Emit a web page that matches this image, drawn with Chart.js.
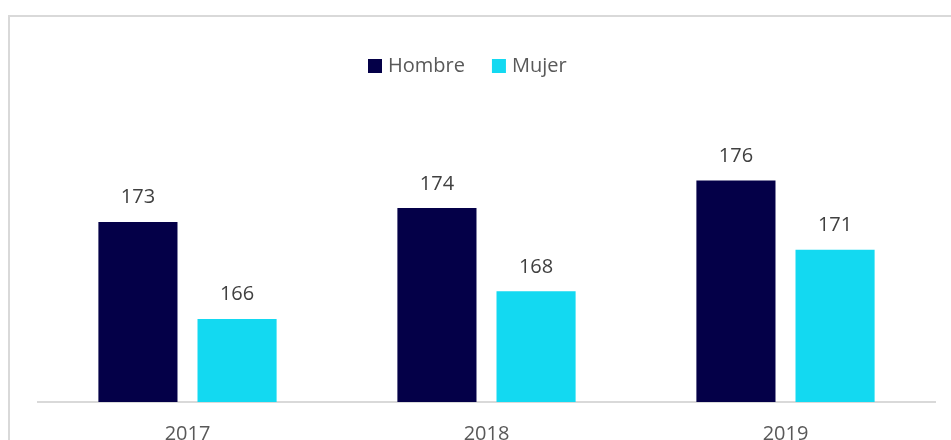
<!DOCTYPE html>
<html>
<head>
<meta charset="utf-8">
<script src="https://cdn.jsdelivr.net/npm/chart.js@4/dist/chart.umd.min.js"></script>
<style>
  html, body { margin: 0; padding: 0; background: #ffffff; overflow: hidden; }
  #wrap { position: relative; width: 951px; height: 440px; }
</style>
</head>
<body>
<div id="wrap"><canvas id="c" width="951" height="440"></canvas></div>
<script>
const categories = ['2017', '2018', '2019'];
const hombre = [173, 174, 176];
const mujer = [166, 168, 171];
const seriesNames = ['Hombre', 'Mujer'];
const seriesColors = ['#040048', '#13d9f1'];

const FONT = "'Open Sans', 'Noto Sans', sans-serif";

const frame = {
  id: 'frame',
  beforeDraw(chart) {
    const ctx = chart.ctx;
    ctx.save();
    ctx.fillStyle = '#ffffff';
    ctx.fillRect(0, 0, chart.width, chart.height);
    ctx.strokeStyle = '#d9d9d9';
    ctx.lineWidth = 2;
    ctx.strokeRect(9, 16, chart.width + 40, chart.height + 40);
    ctx.restore();
  }
};

const legendPlugin = {
  id: 'customLegend',
  afterDraw(chart) {
    const ctx = chart.ctx;
    ctx.save();
    ctx.font = '20px ' + FONT;
    ctx.textBaseline = 'middle';
    let x = 368;
    const y = 66;
    chart.data.datasets.forEach((ds, i) => {
      ctx.fillStyle = ds.backgroundColor;
      ctx.fillRect(x, y - 7, 14, 14);
      x += 14 + 6;
      ctx.fillStyle = '#595959';
      ctx.textAlign = 'left';
      ctx.fillText(ds.label, x, y);
      x += ctx.measureText(ds.label).width + 27;
    });
    ctx.restore();
  }
};

const valueLabels = {
  id: 'valueLabels',
  afterDatasetsDraw(chart) {
    const ctx = chart.ctx;
    ctx.save();
    ctx.font = '20px ' + FONT;
    ctx.fillStyle = '#404040';
    ctx.textAlign = 'center';
    ctx.textBaseline = 'alphabetic';
    chart.data.datasets.forEach((ds, i) => {
      const meta = chart.getDatasetMeta(i);
      meta.data.forEach((bar, j) => {
        ctx.fillText(String(ds.data[j]), bar.x, bar.y - 18.5);
      });
    });
    ctx.restore();
  }
};

new Chart(document.getElementById('c'), {
  type: 'bar',
  data: {
    labels: categories,
    datasets: [
      { label: seriesNames[0], data: hombre, backgroundColor: seriesColors[0] },
      { label: seriesNames[1], data: mujer, backgroundColor: seriesColors[1] }
    ]
  },
  options: {
    responsive: false,
    animation: false,
    devicePixelRatio: 1,
    layout: { padding: { left: 38, right: 16, top: 125, bottom: 0 } },
    datasets: { bar: { categoryPercentage: 0.663, barPercentage: 0.798 } },
    plugins: { legend: { display: false }, tooltip: { enabled: false } },
    scales: {
      x: {
        grid: { display: false, drawTicks: false },
        border: { display: true, color: '#d9d9d9', width: 2 },
        ticks: { color: '#595959', font: { family: FONT, size: 20 }, padding: 20 },
        afterFit(scale) { scale.height = 38; }
      },
      y: {
        display: false,
        min: 160,
        max: 180
      }
    }
  },
  plugins: [frame, legendPlugin, valueLabels]
});
</script>
</body>
</html>
